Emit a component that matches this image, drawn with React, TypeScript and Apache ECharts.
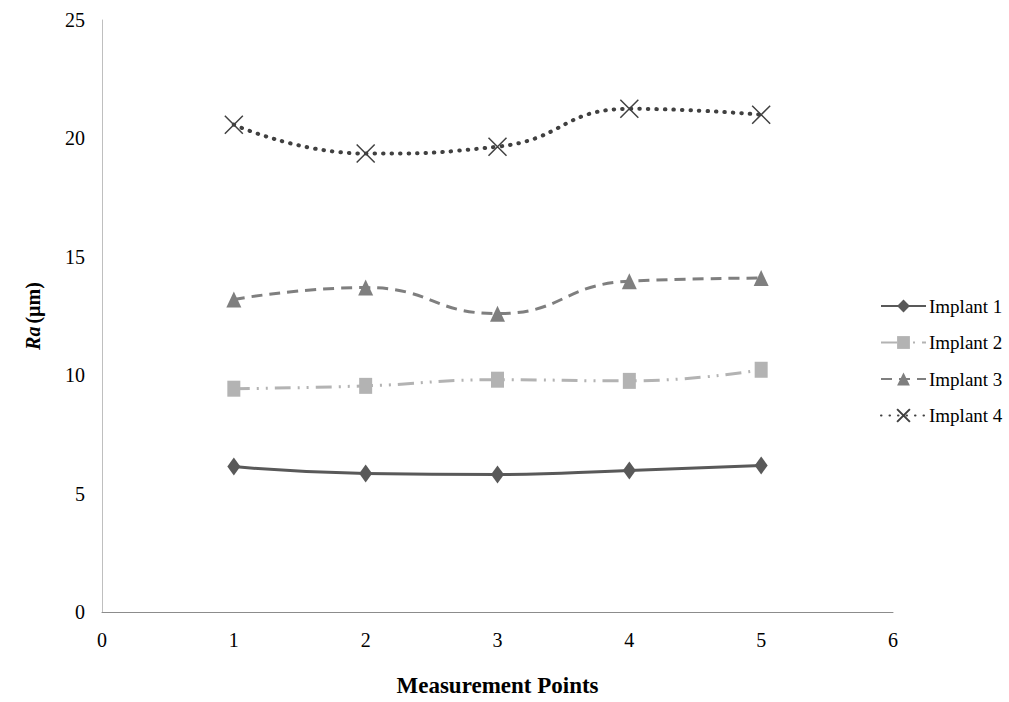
import React, { useEffect, useRef } from "react";
import * as echarts from "echarts";

const xPoints = [1, 2, 3, 4, 5];
const implant1 = [6.14, 5.85, 5.81, 5.98, 6.19];
const implant2 = [9.43, 9.55, 9.81, 9.76, 10.23];
const implant3 = [13.2, 13.7, 12.6, 13.97, 14.1];
const implant4 = [20.58, 19.36, 19.65, 21.25, 21.0];
const seriesNames = ["Implant 1", "Implant 2", "Implant 3", "Implant 4"];

const FONT = "'Liberation Serif', 'Times New Roman', serif";

export default function App() {
  const ref = useRef<HTMLDivElement>(null);
  useEffect(() => {
    if (!ref.current) return;
    const chart = echarts.init(ref.current, undefined, { renderer: "svg" });
    const pair = (arr: number[]) => xPoints.map((x, i) => [x, arr[i]]);
    const xPath = "path://M0,0L10,10M10,0L0,10";
    chart.setOption({
      animation: false,
      textStyle: { fontFamily: FONT },
      grid: { left: 102, right: 116, top: 20, bottom: 88 },
      legend: {
        orient: "vertical",
        left: 875,
        top: 291,
        itemGap: 16.5,
        itemWidth: 45,
        itemHeight: 16,
        textStyle: { fontFamily: FONT, fontSize: 19, lineHeight: 20, color: "#000", padding: [0, 0, 0, -2] },
        data: seriesNames,
      },
      xAxis: {
        type: "value",
        min: 0,
        max: 6,
        interval: 1,
        name: "Measurement Points",
        nameLocation: "middle",
        nameGap: 62,
        nameTextStyle: { fontFamily: FONT, fontSize: 23, fontWeight: "bold", color: "#000" },
        axisLine: { lineStyle: { color: "#8c8c8c", width: 1 } },
        axisTick: { show: false },
        splitLine: { show: false },
        axisLabel: { fontFamily: FONT, fontSize: 20, color: "#000", margin: 18 },
      },
      yAxis: {
        type: "value",
        min: 0,
        max: 25,
        interval: 5,
        name: "{i|Ra} {b|(µm)}",
        nameLocation: "middle",
        nameGap: 59,
        nameTextStyle: {
          rich: {
            i: { fontFamily: FONT, fontSize: 20, fontWeight: "bold", fontStyle: "italic", color: "#000" },
            b: { fontFamily: FONT, fontSize: 20, fontWeight: "bold", color: "#000" },
          },
        },
        axisLine: { show: true, lineStyle: { color: "#bfbfbf", width: 1 } },
        axisTick: { show: false },
        splitLine: { show: false },
        axisLabel: { fontFamily: FONT, fontSize: 20, color: "#000", margin: 17 },
      },
      series: [
        {
          name: seriesNames[0],
          type: "line",
          smooth: true,
          data: pair(implant1),
          symbol: "diamond",
          symbolSize: [13, 18],
          itemStyle: { color: "#595959" },
          lineStyle: { color: "#595959", width: 3 },
        },
        {
          name: seriesNames[1],
          type: "line",
          smooth: true,
          data: pair(implant2),
          symbol: "rect",
          symbolSize: [13, 16],
          itemStyle: { color: "#b3b3b3" },
          lineStyle: { color: "#b3b3b3", width: 3, type: [16, 7, 2, 7, 2, 7] },
        },
        {
          name: seriesNames[2],
          type: "line",
          smooth: true,
          data: pair(implant3),
          symbol: "triangle",
          symbolSize: [15, 16],
          itemStyle: { color: "#7f7f7f" },
          lineStyle: { color: "#7f7f7f", width: 3, type: [11, 7] },
        },
        {
          name: seriesNames[3],
          type: "line",
          smooth: true,
          data: pair(implant4),
          symbol: xPath,
          symbolSize: 18,
          itemStyle: { color: "#404040", borderColor: "#404040", borderWidth: 1.5 },
          lineStyle: { color: "#404040", width: 4, type: [0.5, 8], cap: "round" },
        },
      ],
    });
    return () => chart.dispose();
  }, []);
  return (
    <div
      ref={ref}
      style={{ position: "absolute", left: 0, top: 0, width: 1009, height: 702 }}
    />
  );
}
